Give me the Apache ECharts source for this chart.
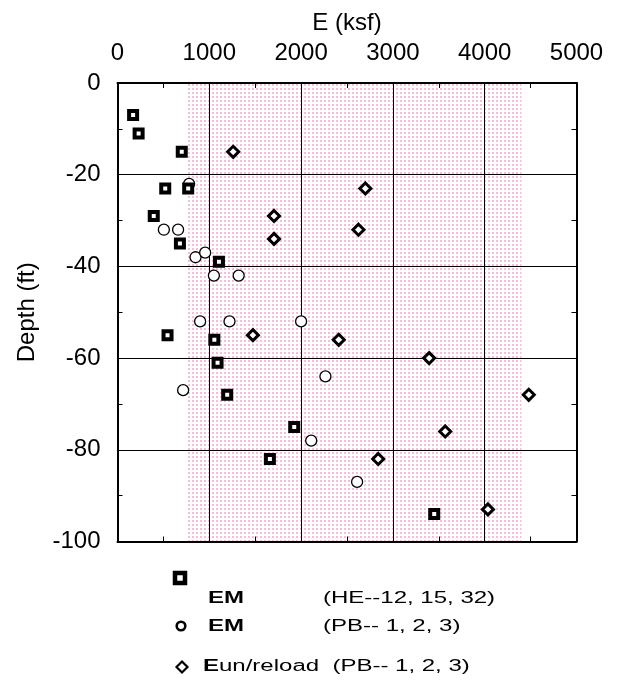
<!DOCTYPE html>
<html>
<head>
<meta charset="utf-8">
<script src="https://cdn.jsdelivr.net/npm/echarts@6/dist/echarts.min.js"></script>
<style>html,body{margin:0;padding:0;background:#fff;}#c{width:621px;height:684px;}</style>
</head>
<body>
<div id="c"></div>
<script>
// ---- data ----
var xTicks = [0, 1000, 2000, 3000, 4000, 5000];
var yTicks = [0, -20, -40, -60, -80, -100];
// EM (HE--12, 15, 32)  squares
var squareE = [170, 230, 700, 520, 770, 395, 680, 1105, 545, 1055, 1090, 1195, 1925, 1660, 3450];
var squareD = [-7, -11, -15, -23, -23, -29, -35, -39, -55, -56, -61, -68, -75, -82, -94];
// EM (PB-- 1, 2, 3)  circles
var circleE = [780, 505, 660, 850, 955, 1050, 1320, 900, 1220, 2000, 715, 2265, 2110, 2610];
var circleD = [-22, -32, -32, -38, -37, -42, -42, -52, -52, -52, -67, -64, -78, -87];
// Eun/reload (PB-- 1, 2, 3)  diamonds
var diamondE = [1260, 1705, 1705, 2700, 2625, 1475, 2410, 3395, 4480, 3570, 2840, 4035];
var diamondD = [-15, -29, -34, -23, -32, -55, -56, -60, -68, -76, -82, -93];
// shaded band of E values
var bandE = [750, 4400];

function pairs(a, b) { return a.map(function (v, i) { return [v, b[i]]; }); }

var pc = document.createElement('canvas');
pc.width = 4; pc.height = 4;
var pctx = pc.getContext('2d');
pctx.fillStyle = '#f8bcdb';
pctx.fillRect(0, 0, 2, 2);

var FONT = 'Liberation Sans, Arial, sans-serif';
var chart = echarts.init(document.getElementById('c'), null, {renderer: 'canvas'});

function xAx(extra) {
  return Object.assign({
    type: 'value', min: 0, max: 5000, interval: 1000,
    axisLine: {show: true, onZero: false, lineStyle: {color: '#000', width: 2}},
    axisTick: {show: false}, axisLabel: {show: false}, splitLine: {show: false}
  }, extra);
}
function yAx(extra) {
  return Object.assign({
    type: 'value', min: -100, max: 0, interval: 20,
    axisLine: {show: true, onZero: false, lineStyle: {color: '#000', width: 2}},
    axisTick: {show: false}, axisLabel: {show: false}, splitLine: {show: false}
  }, extra);
}
var tickStyle = {show: true, inside: true, length: 5, lineStyle: {color: '#000', width: 1}};

var option = {
  backgroundColor: '#fff',
  animation: false,
  grid: {left: 117.5, right: 44.5, top: 83, bottom: 142.5, containLabel: false},
  xAxis: [
    xAx({
      position: 'top',
      name: 'E (ksf)', nameLocation: 'middle', nameGap: 48,
      nameTextStyle: {fontFamily: FONT, fontSize: 24, color: '#000'},
      axisLabel: {show: true, margin: 18, fontFamily: FONT, fontSize: 24, color: '#000',
        formatter: function (v) { return xTicks.indexOf(v) >= 0 ? String(v) : ''; }},
      splitLine: {show: true, lineStyle: {color: '#000', width: 1}}
    }),
    xAx({position: 'bottom', interval: 500, axisTick: tickStyle}),
    xAx({position: 'top', interval: 500, axisLine: {show: false, onZero: false}, axisTick: tickStyle})
  ],
  yAxis: [
    yAx({
      position: 'left',
      name: 'Depth (ft)', nameLocation: 'middle', nameGap: 78, nameRotate: 90,
      nameTextStyle: {fontFamily: FONT, fontSize: 24, color: '#000'},
      axisLabel: {show: true, margin: 17, fontFamily: FONT, fontSize: 24, color: '#000',
        formatter: function (v) { return yTicks.indexOf(v) >= 0 ? String(v) : ''; }},
      splitLine: {show: true, lineStyle: {color: '#000', width: 1}}
    }),
    yAx({position: 'right', interval: 10, axisTick: tickStyle}),
    yAx({position: 'left', interval: 10, axisLine: {show: false, onZero: false}, axisTick: tickStyle})
  ],
  series: [
    {
      type: 'scatter', name: 'band', data: [], z: -1, silent: true,
      markArea: {
        silent: true, z: -1,
        itemStyle: {color: {image: pc, repeat: 'repeat'}},
        data: [[{xAxis: bandE[0], yAxis: 0}, {xAxis: bandE[1], yAxis: -100}]]
      }
    },
    {
      type: 'scatter', name: 'EM (PB-- 1, 2, 3)', z: 3,
      data: pairs(circleE, circleD),
      symbol: 'circle', symbolSize: 11,
      itemStyle: {color: '#fff', borderColor: '#000', borderWidth: 1.3, opacity: 1}
    },
    {
      type: 'scatter', name: 'EM (HE--12, 15, 32)', z: 4,
      data: pairs(squareE, squareD),
      symbol: 'rect', symbolSize: 8,
      itemStyle: {color: '#fff', borderColor: '#000', borderWidth: 4, opacity: 1}
    },
    {
      type: 'scatter', name: 'Eun/reload (PB-- 1, 2, 3)', z: 5,
      data: pairs(diamondE, diamondD),
      symbol: 'diamond', symbolSize: 11,
      itemStyle: {color: '#fff', borderColor: '#000', borderWidth: 3, opacity: 1}
    }
  ],
  graphic: [
    {type: 'rect', shape: {x: 175, y: 573, width: 10, height: 10},
     style: {fill: '#fff', stroke: '#000', lineWidth: 4.5}},
    {type: 'text', x: 208, y: 599, scaleX: 1.5,
     style: {text: 'EM', font: 'bold 16px ' + FONT, fill: '#000', verticalAlign: 'middle'}},
    {type: 'text', x: 323, y: 599, scaleX: 1.5,
     style: {text: '(HE--12, 15, 32)', font: '16px ' + FONT, fill: '#000', verticalAlign: 'middle'}},
    {type: 'circle', shape: {cx: 181, cy: 626, r: 4.3},
     style: {fill: '#fff', stroke: '#000', lineWidth: 2.6}},
    {type: 'text', x: 208, y: 627, scaleX: 1.5,
     style: {text: 'EM', font: 'bold 16px ' + FONT, fill: '#000', verticalAlign: 'middle'}},
    {type: 'text', x: 323, y: 627, scaleX: 1.5,
     style: {text: '(PB-- 1, 2, 3)', font: '16px ' + FONT, fill: '#000', verticalAlign: 'middle'}},
    {type: 'polygon', shape: {points: [[182, 661.5], [187.5, 667], [182, 672.5], [176.5, 667]]},
     style: {fill: '#fff', stroke: '#000', lineWidth: 2.2}},
    {type: 'text', x: 203, y: 667, scaleX: 1.5,
     style: {text: '{b|E}un/reload  (PB-- 1, 2, 3)', font: '16px ' + FONT, fill: '#000', verticalAlign: 'middle',
       rich: {b: {fontWeight: 'bold', fontSize: 16, fontFamily: FONT}}}}
  ]
};
chart.setOption(option);
</script>
</body>
</html>
